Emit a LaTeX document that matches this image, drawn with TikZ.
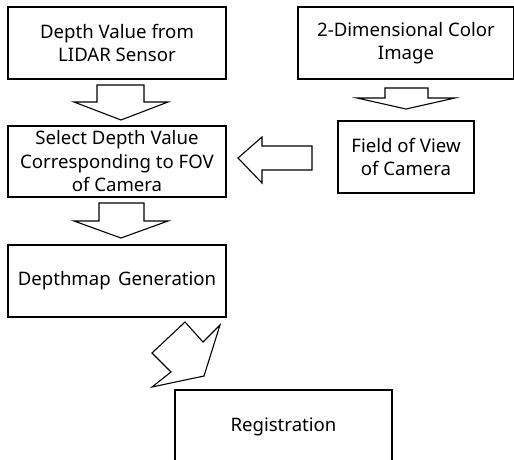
\documentclass[tikz,border=0pt]{standalone}
\usepackage{fontspec}
\setmainfont{Noto Sans}
\begin{document}
\begin{tikzpicture}[x=1pt,y=-1pt,
  box/.style={draw,line width=1.2pt,rectangle,inner sep=0pt,align=center,
    font=\fontsize{18.6}{23.5}\selectfont},
  blk/.style={draw,line width=1.1pt,fill=white,line join=miter}]
\useasboundingbox (0,0) rectangle (514,460);
\clip (0,0) rectangle (514,460);
% boxes
\node[box,minimum width=218pt,minimum height=72pt] (lidar) at (117,43) {Depth Value from\\LIDAR Sensor};
\node[box,minimum width=216pt,minimum height=72pt] (color) at (406,43) {2-Dimensional Color\\Image};
\node[box,minimum width=218pt,minimum height=71pt] (select) at (117,161.5) {Select Depth Value\\Corresponding to FOV\\of Camera};
\node[box,minimum width=136pt,minimum height=72pt] (fov) at (406,157) {Field of View\\of Camera};
\node[box,minimum width=218pt,minimum height=72pt] (depth) at (117,281) {Depthmap\hspace{0.4em}Generation};
\node[box,minimum width=217pt,minimum height=90pt] (reg) at (283.5,435) {};
\node[font=\fontsize{18.6}{23.5}\selectfont] (regt) at (283.5,427) {Registration};
% block arrows
\draw[blk] (97,85) -- (144,85) -- (144,102) -- (168,102) -- (121,120) -- (74,102) -- (97,102) -- cycle;
\draw[blk] (385,88) -- (428,88) -- (428,98) -- (455,98) -- (406,109) -- (357,98) -- (385,98) -- cycle;
\draw[blk] (312,146) -- (312,170) -- (262,170) -- (262,183) -- (238,158) -- (262,137) -- (262,146) -- cycle;
\draw[blk] (99,203) -- (144,203) -- (144,221) -- (168,221) -- (121,238) -- (74,221) -- (99,221) -- cycle;
\draw[blk] (185,322) -- (203,342) -- (220,325) -- (204,376) -- (152,387) -- (171,372) -- (152,353) -- cycle;
\end{tikzpicture}
\end{document}
